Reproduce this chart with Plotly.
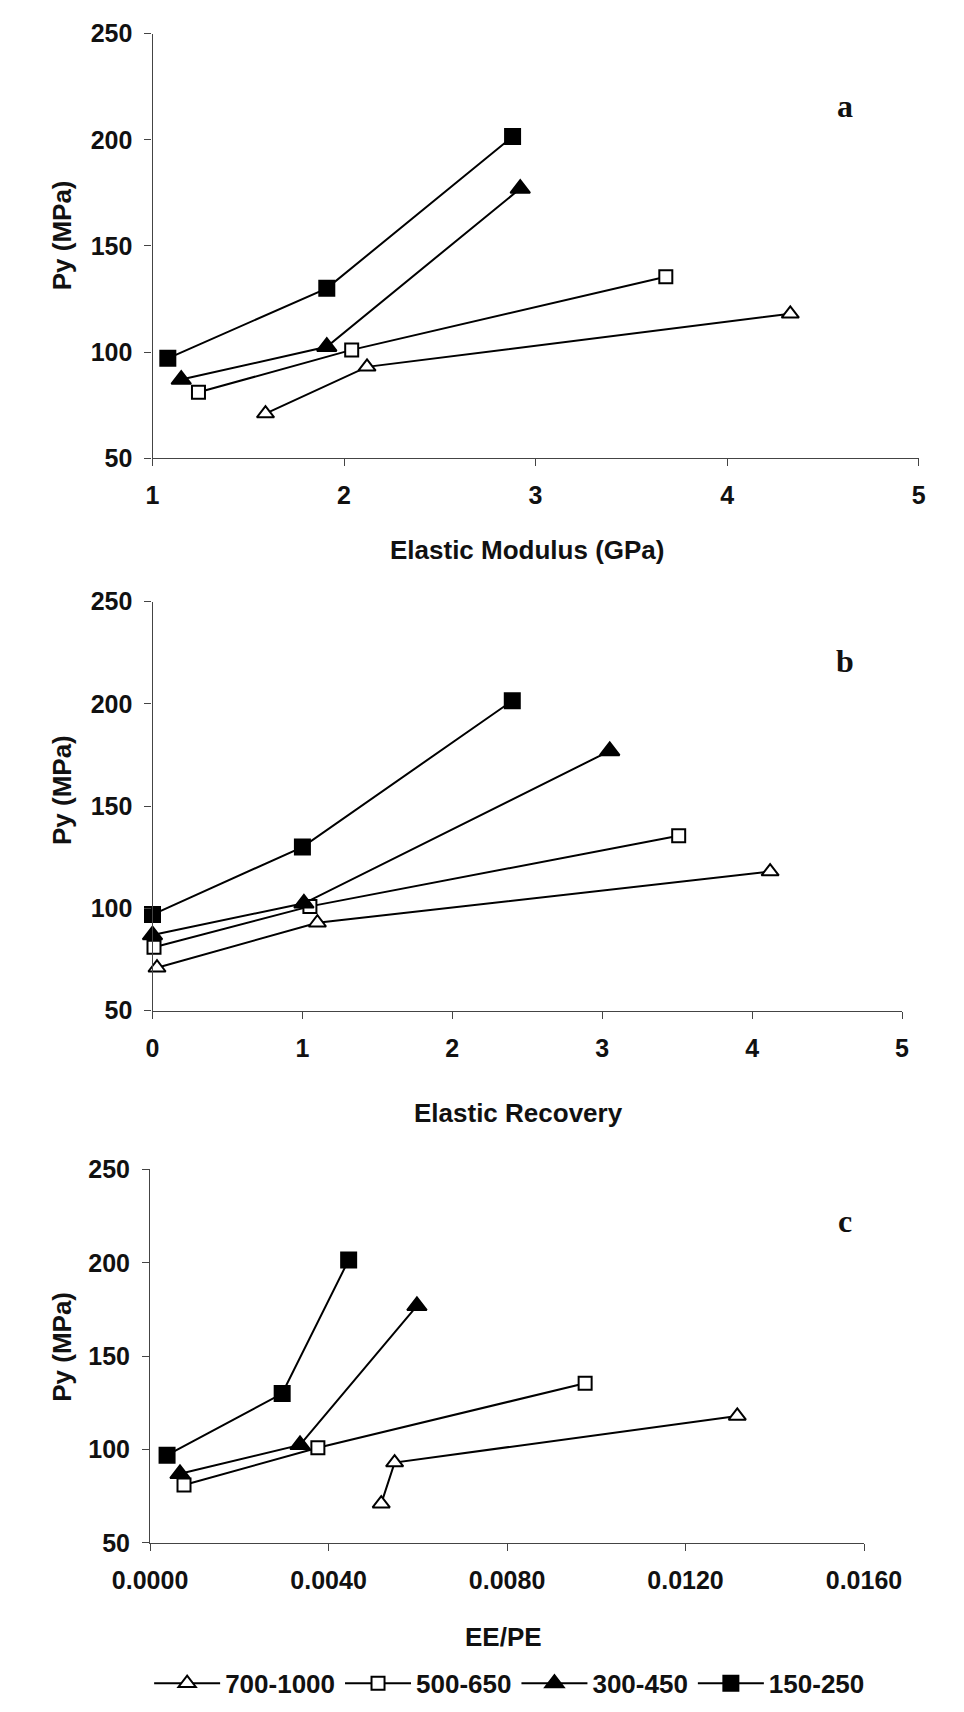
import plotly.graph_objects as go

# ---- data ----
series_names = ["700-1000", "500-650", "300-450", "150-250"]
py_700_1000 = [71, 93, 118]
py_500_650 = [81, 101, 135.5]
py_300_450 = [87, 102.5, 177]
py_150_250 = [97, 130, 201.5]

# panel a: Elastic Modulus (GPa)
em_700_1000 = [1.59, 2.12, 4.33]
em_500_650 = [1.24, 2.04, 3.68]
em_300_450 = [1.15, 1.91, 2.92]
em_150_250 = [1.08, 1.91, 2.88]

# panel b: Elastic Recovery
er_700_1000 = [0.03, 1.10, 4.12]
er_500_650 = [0.01, 1.05, 3.51]
er_300_450 = [0.0, 1.01, 3.05]
er_150_250 = [0.0, 1.00, 2.40]

# panel c: EE/PE
ee_700_1000 = [0.00518, 0.00548, 0.01316]
ee_500_650 = [0.00076, 0.00376, 0.00975]
ee_300_450 = [0.00067, 0.00336, 0.00598]
ee_150_250 = [0.00038, 0.00296, 0.00445]

y_ticks = [50, 100, 150, 200, 250]
a_ticks = [1, 2, 3, 4, 5]
b_ticks = [0, 1, 2, 3, 4, 5]
c_ticks = [0.0, 0.004, 0.008, 0.012, 0.016]
c_ticklabels = ["0.0000", "0.0040", "0.0080", "0.0120", "0.0160"]

# ---- styling ----
W, H = 964, 1712
FONT = "Liberation Sans, Arial, sans-serif"
styles = {
    "700-1000": dict(symbol="triangle-up", color="white", size=15),
    "500-650": dict(symbol="square", color="white", size=13),
    "300-450": dict(symbol="triangle-up", color="black", size=17),
    "150-250": dict(symbol="square", color="black", size=15),
}

py_all = [py_700_1000, py_500_650, py_300_450, py_150_250]
panels = [
    ("x", "y", [em_700_1000, em_500_650, em_300_450, em_150_250]),
    ("x2", "y2", [er_700_1000, er_500_650, er_300_450, er_150_250]),
    ("x3", "y3", [ee_700_1000, ee_500_650, ee_300_450, ee_150_250]),
]

fig = go.Figure()
for pi, (xa, ya, xs) in enumerate(panels):
    for name, xv, yv in zip(series_names, xs, py_all):
        st = styles[name]
        fig.add_trace(go.Scatter(
            x=xv, y=yv, xaxis=xa, yaxis=ya, name=name,
            mode="lines+markers", showlegend=(pi == 0), legendgroup=name,
            line=dict(color="black", width=2),
            marker=dict(symbol=st["symbol"], size=st["size"], color=st["color"],
                        line=dict(color="black", width=2)),
            cliponaxis=False,
        ))

def px_dom(a, b, total):
    return [a / total, b / total]

def py_dom(top, bottom):
    return [1 - bottom / H, 1 - top / H]

tickfont = dict(family=FONT, size=25, color="#111", weight="bold")
axis_common = dict(showgrid=False, zeroline=False, showline=True, linecolor="#444",
                   linewidth=1.2, ticks="outside", ticklen=7, tickcolor="#444",
                   tickwidth=1, tickfont=tickfont)
XS, YS = 8, 7

fig.update_layout(
    width=W, height=H, margin=dict(l=0, r=0, t=0, b=0),
    paper_bgcolor="white", plot_bgcolor="white",
    xaxis=dict(domain=px_dom(124.3, 956, W), range=[1, 5], tickvals=a_ticks,
               anchor="y", ticklabelstandoff=XS, **axis_common),
    yaxis=dict(domain=py_dom(20, 451.5), range=[50, 250], tickvals=y_ticks,
               anchor="x", ticklabelstandoff=YS, **axis_common),
    xaxis2=dict(domain=px_dom(124.3, 938, W), range=[0, 5], tickvals=b_ticks,
                anchor="y2", ticklabelstandoff=XS, **axis_common),
    yaxis2=dict(domain=py_dom(597.3, 1013.3), range=[50, 250], tickvals=y_ticks,
                anchor="x2", ticklabelstandoff=YS, **axis_common),
    xaxis3=dict(domain=px_dom(121.7, 896.7, W), range=[0, 0.016], tickvals=c_ticks,
                ticktext=c_ticklabels, anchor="y3", ticklabelstandoff=XS, **axis_common),
    yaxis3=dict(domain=py_dom(1174.7, 1554.3), range=[50, 250], tickvals=y_ticks,
                anchor="x3", ticklabelstandoff=YS, **axis_common),
    legend=dict(orientation="h", x=512 / W, xanchor="center", y=1 - 1697 / H,
                yanchor="middle", font=dict(family=FONT, size=26, color="#111", weight="bold"),
                bgcolor="rgba(0,0,0,0)", itemwidth=66, tracegroupgap=0),
)

title_font = dict(family=FONT, size=26, color="#111", weight="bold")
ann = []
# y axis titles
for yc in [225, 789, 1355]:
    ann.append(dict(text="Py (MPa)", x=26 / W, y=1 - yc / H, xref="paper", yref="paper",
                    textangle=-90, showarrow=False, font=title_font,
                    xanchor="center", yanchor="middle"))
# x axis titles
for txt, xc, yc in [("Elastic Modulus (GPa)", 531, 545), ("Elastic Recovery", 522, 1117),
                    ("EE/PE", 505, 1650)]:
    ann.append(dict(text=txt, x=xc / W, y=1 - yc / H, xref="paper", yref="paper",
                    showarrow=False, font=title_font, xanchor="center", yanchor="middle"))
# panel letters
for txt, yc in [("a", 94), ("b", 658), ("c", 1227)]:
    ann.append(dict(text=txt, x=876 / W, y=1 - yc / H, xref="paper", yref="paper",
                    showarrow=False, xanchor="center", yanchor="middle",
                    font=dict(family="Liberation Serif, Times New Roman, serif", size=32,
                              color="#111", weight="bold")))
fig.update_layout(annotations=ann)

fig.write_html("out.html")
